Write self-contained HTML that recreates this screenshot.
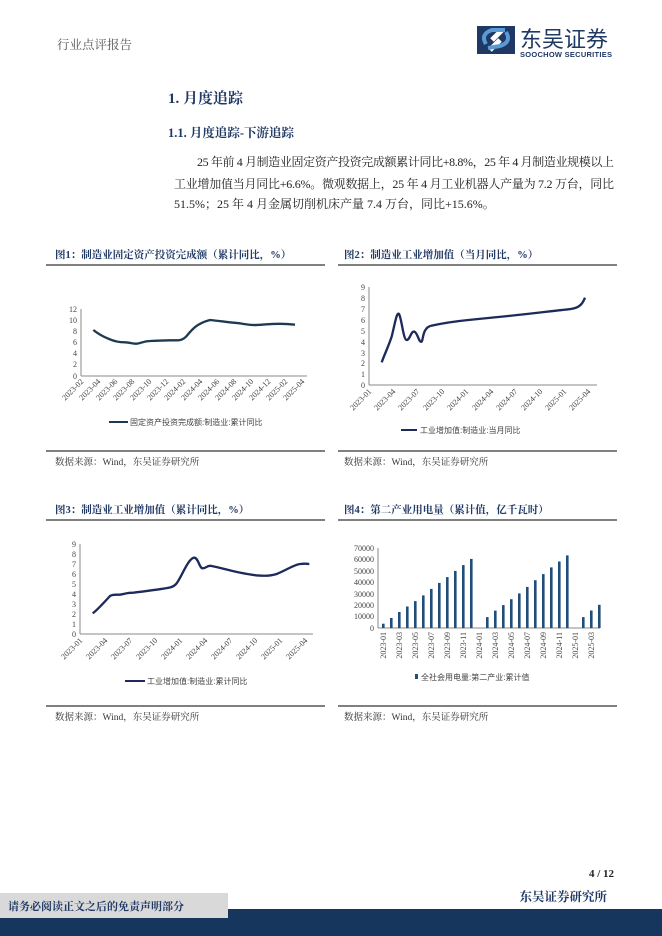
<!DOCTYPE html>
<html><head><meta charset="utf-8"><style>
html,body{margin:0;padding:0;background:#fff;}
svg{display:block;}
text{font-family:"Liberation Serif","Noto Serif CJK SC",serif;}
.s{font-family:"Liberation Sans","Noto Sans CJK SC",sans-serif;}
.tk{font-family:"Liberation Sans","Noto Sans CJK SC",sans-serif;font-size:8px;fill:#444;}
.ttl{font-size:10.5px;font-weight:bold;fill:#1f3864;}
.src{font-size:9.5px;fill:#333;}
</style></head><body>
<svg width="662" height="936" viewBox="0 0 662 936" xmlns="http://www.w3.org/2000/svg">
<text x="57" y="49" font-size="12.5" fill="#555">行业点评报告</text>
<rect x="477" y="26" width="38" height="28" fill="#1f3864"/>
<path d="M490 50 L500 40 M502 30 L492 40" stroke="#fff" stroke-width="5" fill="none"/>
<path d="M486 44 Q480 34 492 30 L505 30 M506 32 Q512 42 500 46 L488 48" stroke="#5b9bd5" stroke-width="4" fill="none"/>
<text x="520" y="47" font-size="22" fill="#1f3864" class="s">东吴证券</text>
<text x="520" y="57" font-size="7.5" font-weight="bold" fill="#1f3864" class="s" textLength="92">SOOCHOW SECURITIES</text>

<text x="168" y="103" font-size="15" font-weight="bold" fill="#1f3864">1.  月度追踪</text>
<text x="168" y="137" font-size="12.5" font-weight="bold" fill="#1f3864">1.1.  月度追踪-下游追踪</text>
<text x="197" y="166" font-size="12" fill="#222" textLength="417">25 年前 4 月制造业固定资产投资完成额累计同比+8.8%，25 年 4 月制造业规模以上</text>
<text x="174" y="188" font-size="12" fill="#222" textLength="440">工业增加值当月同比+6.6%。微观数据上，25 年 4 月工业机器人产量为 7.2 万台，同比</text>
<text x="174" y="208" font-size="12" fill="#222">51.5%；25 年 4 月金属切削机床产量 7.4 万台，同比+15.6%。</text>

<text x="55" y="258" class="ttl">图1：制造业固定资产投资完成额（累计同比，%）</text>
<line x1="46" y1="265" x2="325" y2="265" stroke="#000" stroke-width="1"/>
<text x="344" y="258" class="ttl">图2：制造业工业增加值（当月同比，%）</text>
<line x1="338" y1="265" x2="617" y2="265" stroke="#000" stroke-width="1"/>
<line x1="46" y1="451" x2="325" y2="451" stroke="#000" stroke-width="1"/>
<line x1="338" y1="451" x2="617" y2="451" stroke="#000" stroke-width="1"/>
<text x="55" y="465" class="src">数据来源：Wind，东吴证券研究所</text>
<text x="344" y="465" class="src">数据来源：Wind，东吴证券研究所</text>

<text x="55" y="513" class="ttl">图3：制造业工业增加值（累计同比，%）</text>
<line x1="46" y1="520" x2="325" y2="520" stroke="#000" stroke-width="1"/>
<text x="344" y="513" class="ttl">图4：第二产业用电量（累计值，亿千瓦时）</text>
<line x1="338" y1="520" x2="617" y2="520" stroke="#000" stroke-width="1"/>
<line x1="46" y1="706" x2="325" y2="706" stroke="#000" stroke-width="1"/>
<line x1="338" y1="706" x2="617" y2="706" stroke="#000" stroke-width="1"/>
<text x="55" y="720" class="src">数据来源：Wind，东吴证券研究所</text>
<text x="344" y="720" class="src">数据来源：Wind，东吴证券研究所</text>

<g>
<line x1="81" y1="309" x2="81" y2="376" stroke="#888"/>
<line x1="81" y1="376" x2="307" y2="376" stroke="#888"/>
<g class="tk" text-anchor="end">
<text x="77" y="312">12</text><text x="77" y="323">10</text><text x="77" y="334">8</text><text x="77" y="345">6</text><text x="77" y="356">4</text><text x="77" y="367">2</text><text x="77" y="379">0</text>
</g>
<g class="tk" text-anchor="end">
<text transform="translate(84,382) rotate(-45)">2023-02</text>
<text transform="translate(101,382) rotate(-45)">2023-04</text>
<text transform="translate(118,382) rotate(-45)">2023-06</text>
<text transform="translate(135,382) rotate(-45)">2023-08</text>
<text transform="translate(152,382) rotate(-45)">2023-10</text>
<text transform="translate(169,382) rotate(-45)">2023-12</text>
<text transform="translate(186,382) rotate(-45)">2024-02</text>
<text transform="translate(203,382) rotate(-45)">2024-04</text>
<text transform="translate(220,382) rotate(-45)">2024-06</text>
<text transform="translate(237,382) rotate(-45)">2024-08</text>
<text transform="translate(254,382) rotate(-45)">2024-10</text>
<text transform="translate(271,382) rotate(-45)">2024-12</text>
<text transform="translate(288,382) rotate(-45)">2025-02</text>
<text transform="translate(305,382) rotate(-45)">2025-04</text>
</g>
<g transform="translate(40,240) scale(0.3333)">
<path d="M160,270 C175,282 190,290 205,296 C220,303 235,307 255,307 C270,307 275,312 290,311 C305,310 310,303 330,303 C350,302 360,302 390,301 C410,300 425,305 440,288 C455,270 470,250 510,240 C540,243 560,246 600,250 C630,255 640,257 680,253 C720,250 740,251 765,254" fill="none" stroke="#1e3a52" stroke-width="7"/>
</g>
<line x1="109" y1="422" x2="128" y2="422" stroke="#1e3a52" stroke-width="2"/>
<text x="130" y="425" class="tk">固定资产投资完成额:制造业:累计同比</text>
</g>

<g>
<line x1="369" y1="287" x2="369" y2="385" stroke="#888"/>
<line x1="369" y1="385" x2="597" y2="385" stroke="#888"/>
<g class="tk" text-anchor="end">
<text x="365" y="290">9</text><text x="365" y="301">8</text><text x="365" y="312">7</text><text x="365" y="323">6</text><text x="365" y="334">5</text><text x="365" y="345">4</text><text x="365" y="356">3</text><text x="365" y="366">2</text><text x="365" y="377">1</text><text x="365" y="388">0</text>
</g>
<g class="tk" text-anchor="end">
<text transform="translate(372,392) rotate(-45)">2023-01</text>
<text transform="translate(396,392) rotate(-45)">2023-04</text>
<text transform="translate(420,392) rotate(-45)">2023-07</text>
<text transform="translate(445,392) rotate(-45)">2023-10</text>
<text transform="translate(469,392) rotate(-45)">2024-01</text>
<text transform="translate(494,392) rotate(-45)">2024-04</text>
<text transform="translate(518,392) rotate(-45)">2024-07</text>
<text transform="translate(543,392) rotate(-45)">2024-10</text>
<text transform="translate(567,392) rotate(-45)">2025-01</text>
<text transform="translate(591,392) rotate(-45)">2025-04</text>
</g>
<g transform="translate(335,240) scale(0.3333)">
<path d="M140,367 C150,340 160,320 170,290 C180,250 185,215 192,222 C200,235 205,300 215,300 C225,300 228,272 238,275 C248,278 252,310 260,305 C265,300 262,262 290,257 C330,248 360,244 400,240 C450,235 480,232 520,228 C600,220 650,213 700,208 C725,205 740,200 750,173" fill="none" stroke="#1f2a5c" stroke-width="7"/>
</g>
<line x1="401" y1="430" x2="417" y2="430" stroke="#1f2a5c" stroke-width="2"/>
<text x="420" y="433" class="tk" font-size="7.5">工业增加值:制造业:当月同比</text>
</g>

<g>
<line x1="80" y1="544" x2="80" y2="634" stroke="#888"/>
<line x1="80" y1="634" x2="313" y2="634" stroke="#888"/>
<g class="tk" text-anchor="end">
<text x="76" y="547">9</text><text x="76" y="557">8</text><text x="76" y="567">7</text><text x="76" y="577">6</text><text x="76" y="587">5</text><text x="76" y="597">4</text><text x="76" y="607">3</text><text x="76" y="617">2</text><text x="76" y="627">1</text><text x="76" y="637">0</text>
</g>
<g class="tk" text-anchor="end">
<text transform="translate(83,641) rotate(-45)">2023-01</text>
<text transform="translate(108,641) rotate(-45)">2023-04</text>
<text transform="translate(133,641) rotate(-45)">2023-07</text>
<text transform="translate(158,641) rotate(-45)">2023-10</text>
<text transform="translate(183,641) rotate(-45)">2024-01</text>
<text transform="translate(208,641) rotate(-45)">2024-04</text>
<text transform="translate(233,641) rotate(-45)">2024-07</text>
<text transform="translate(258,641) rotate(-45)">2024-10</text>
<text transform="translate(283,641) rotate(-45)">2025-01</text>
<text transform="translate(308,641) rotate(-45)">2025-04</text>
</g>
<g transform="translate(40,500) scale(0.3333)">
<path d="M158,340 C170,332 190,310 210,288 C220,282 230,285 240,284 C255,282 260,278 280,278 C310,275 340,270 370,266 C390,263 400,262 410,250 C425,230 445,175 462,173 C475,172 478,205 488,205 C500,205 500,195 515,198 C540,203 570,212 600,218 C640,226 680,232 710,222 C740,210 760,195 780,192 C800,190 805,192 808,192" fill="none" stroke="#1f2a5c" stroke-width="7"/>
</g>
<line x1="125" y1="681" x2="145" y2="681" stroke="#1f2a5c" stroke-width="2"/>
<text x="147" y="684" class="tk" font-size="7.5">工业增加值:制造业:累计同比</text>
</g>

<g>
<line x1="378" y1="548" x2="378" y2="628" stroke="#888"/>
<line x1="378" y1="628" x2="600" y2="628" stroke="#888"/>
<g class="tk" text-anchor="end">
<text x="374" y="551">70000</text><text x="374" y="562">60000</text><text x="374" y="574">50000</text><text x="374" y="585">40000</text><text x="374" y="597">30000</text><text x="374" y="608">20000</text><text x="374" y="619">10000</text><text x="374" y="631">0</text>
</g>
<g fill="#1f4e79">
<rect x="382" y="623.7" width="2.6" height="4.3"/>
<rect x="390" y="618" width="2.6" height="10"/>
<rect x="398" y="612" width="2.6" height="16"/>
<rect x="406" y="606.5" width="2.6" height="21.5"/>
<rect x="414" y="601.1" width="2.6" height="26.9"/>
<rect x="422" y="595.4" width="2.6" height="32.6"/>
<rect x="430" y="588.9" width="2.6" height="39.1"/>
<rect x="438" y="582.9" width="2.6" height="45.1"/>
<rect x="446" y="577.1" width="2.6" height="50.9"/>
<rect x="454" y="570.9" width="2.6" height="57.1"/>
<rect x="462" y="565.1" width="2.6" height="62.9"/>
<rect x="470" y="558.9" width="2.6" height="69.1"/>
<rect x="486" y="617.1" width="2.6" height="10.9"/>
<rect x="494" y="610.6" width="2.6" height="17.4"/>
<rect x="502" y="605.1" width="2.6" height="22.9"/>
<rect x="510" y="599.2" width="2.6" height="28.8"/>
<rect x="518" y="593.4" width="2.6" height="34.6"/>
<rect x="526" y="586.9" width="2.6" height="41.1"/>
<rect x="534" y="580.2" width="2.6" height="47.8"/>
<rect x="542" y="574.1" width="2.6" height="53.9"/>
<rect x="550" y="567.4" width="2.6" height="60.6"/>
<rect x="558" y="561.5" width="2.6" height="66.5"/>
<rect x="566" y="555.4" width="2.6" height="72.6"/>
<rect x="582" y="617.1" width="2.6" height="10.9"/>
<rect x="590" y="610.5" width="2.6" height="17.5"/>
<rect x="598" y="604.8" width="2.6" height="23.2"/>
</g>
<g class="tk" text-anchor="end">
<text transform="translate(386,632) rotate(-90)">2023-01</text>
<text transform="translate(402,632) rotate(-90)">2023-03</text>
<text transform="translate(418,632) rotate(-90)">2023-05</text>
<text transform="translate(434,632) rotate(-90)">2023-07</text>
<text transform="translate(450,632) rotate(-90)">2023-09</text>
<text transform="translate(466,632) rotate(-90)">2023-11</text>
<text transform="translate(482,632) rotate(-90)">2024-01</text>
<text transform="translate(498,632) rotate(-90)">2024-03</text>
<text transform="translate(514,632) rotate(-90)">2024-05</text>
<text transform="translate(530,632) rotate(-90)">2024-07</text>
<text transform="translate(546,632) rotate(-90)">2024-09</text>
<text transform="translate(562,632) rotate(-90)">2024-11</text>
<text transform="translate(578,632) rotate(-90)">2025-01</text>
<text transform="translate(594,632) rotate(-90)">2025-03</text>
</g>
<rect x="415" y="674" width="3" height="5" fill="#1f4e79"/>
<text x="421" y="680" class="tk" font-size="7.5">全社会用电量:第二产业:累计值</text>
</g>

<text x="614" y="877" font-size="11" font-weight="bold" fill="#222" text-anchor="end">4  /  12</text>
<text x="607" y="901" font-size="12.5" font-weight="bold" fill="#1f3864" text-anchor="end">东吴证券研究所</text>
<rect x="0" y="909" width="662" height="27" fill="#17365d"/>
<rect x="0" y="893" width="228" height="25" fill="#d9d9d9"/>
<text x="8" y="910" font-size="11" font-weight="bold" fill="#1f3864">请务必阅读正文之后的免责声明部分</text>
</svg>
</body></html>
